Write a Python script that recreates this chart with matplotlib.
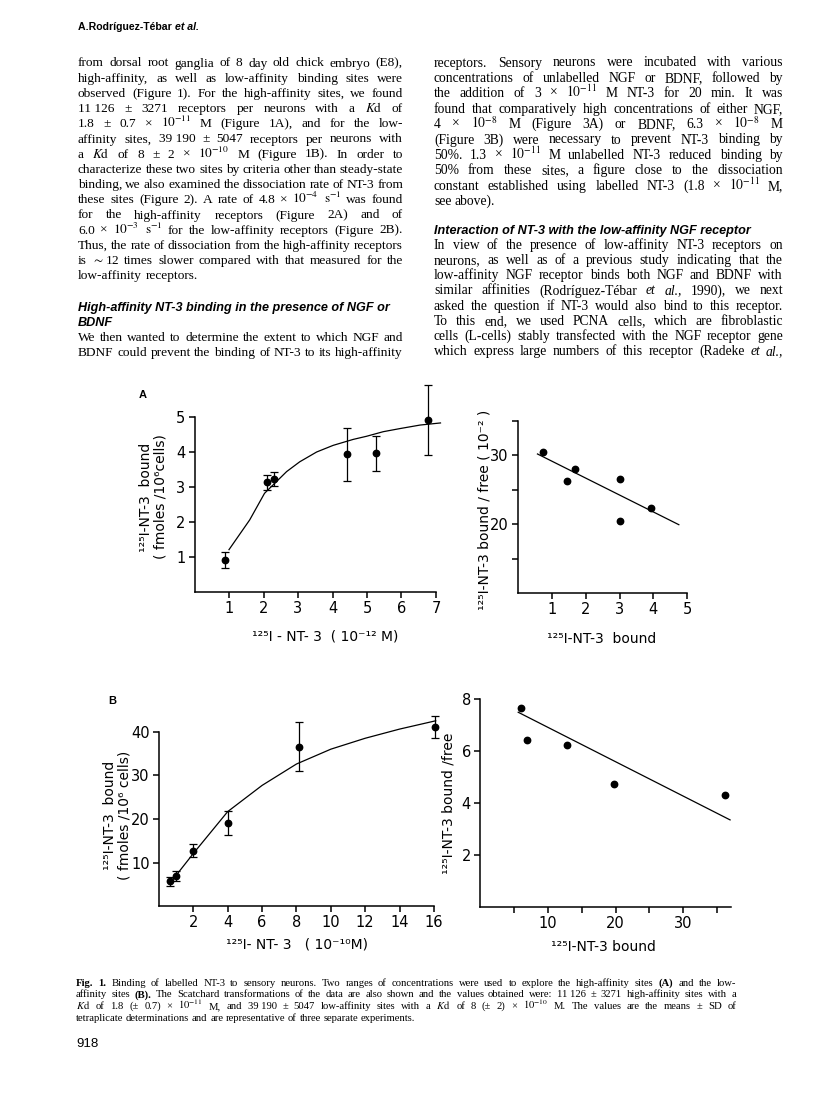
import matplotlib
matplotlib.use('Agg')
import matplotlib.pyplot as plt

plt.rcParams['mathtext.fontset'] = 'stix'
plt.rcParams['font.family'] = 'DejaVu Sans'

W, H = 816, 1093

# ---- panel A: saturation (high-affinity sites) ----
a_conc = [0.87, 2.11, 2.31, 4.42, 5.25, 6.76]
a_bound = [0.91, 3.13, 3.23, 3.93, 3.96, 4.91]
a_err = [0.23, 0.21, 0.21, 0.75, 0.50, 1.01]
a_fit_x = [1.0, 1.6, 2.03, 2.67, 3.05, 3.54, 4.02, 4.6, 4.99, 5.47, 5.96, 6.54, 7.13]
a_fit_y = [1.21, 2.06, 2.82, 3.44, 3.72, 4.0, 4.19, 4.36, 4.45, 4.58, 4.67, 4.77, 4.83]

# ---- panel A: Scatchard ----
as_bound = [0.73, 1.45, 1.68, 3.0, 3.02, 3.92]
as_ratio = [30.48, 26.28, 27.92, 26.57, 20.43, 22.37]
as_line_x = [0.58, 4.75]
as_line_y = [30.15, 19.9]

# ---- panel B: saturation (low-affinity sites) ----
b_conc = [0.64, 0.99, 2.0, 4.0, 8.13, 16.08]
b_bound = [5.7, 6.95, 12.7, 19.0, 36.6, 41.1]
b_err = [0.95, 1.05, 1.5, 2.75, 5.65, 2.45]
b_fit_x = [0.7, 2.0, 4.0, 6.0, 8.0, 10.0, 12.0, 14.0, 16.1]
b_fit_y = [5.6, 12.1, 21.7, 27.7, 32.6, 36.0, 38.5, 40.6, 42.5]

# ---- panel B: Scatchard ----
bs_bound = [6.0, 6.98, 12.87, 19.8, 36.2]
bs_ratio = [7.67, 6.42, 6.23, 4.74, 4.29]
bs_line_x = [5.65, 36.9]
bs_line_y = [7.49, 3.35]

# ---- page text ("_" keeps two parts together, {i} italic, {b} bold) ----
KD = "$K_\\mathrm{d}$"
left_lines = [
    "from dorsal root ganglia of 8 day old chick embryo (E8),",
    "high-affinity, as well as low-affinity binding sites were",
    "observed (Figure 1). For the high-affinity sites, we found",
    "11_126 ± 3271 receptors per neurons with a " + KD + " of",
    "1.8 ± 0.7 × $10^{-11}$ M (Figure 1A), and for the low-",
    "affinity sites, 39_190 ± 5047 receptors per neurons with",
    "a " + KD + " of 8 ± 2 × $10^{-10}$ M (Figure 1B). In order to",
    "characterize these two sites by criteria other than steady-state",
    "binding, we also examined the dissociation rate of NT-3 from",
    "these sites (Figure 2). A rate of 4.8 × $10^{-4}$ $\\mathrm{s}^{-1}$ was found",
    "for the high-affinity receptors (Figure 2A) and of",
    "6.0 × $10^{-3}$ $\\mathrm{s}^{-1}$ for the low-affinity receptors (Figure 2B).",
    "Thus, the rate of dissociation from the high-affinity receptors",
    "is $\\sim$12 times slower compared with that measured for the",
    "low-affinity receptors.",
]
left_heading = ["High-affinity NT-3 binding in the presence of NGF or", "BDNF"]
left_lines2 = [
    "We then wanted to determine the extent to which NGF and",
    "BDNF could prevent the binding of NT-3 to its high-affinity",
]
right_lines = [
    "receptors. Sensory neurons were incubated with various",
    "concentrations of unlabelled NGF or BDNF, followed by",
    "the addition of 3 × $10^{-11}$ M NT-3 for 20 min. It was",
    "found that comparatively high concentrations of either NGF,",
    "4 × $10^{-8}$ M (Figure 3A) or BDNF, 6.3 × $10^{-8}$ M",
    "(Figure 3B) were necessary to prevent NT-3 binding by",
    "50%. 1.3 × $10^{-11}$ M unlabelled NT-3 reduced binding by",
    "50% from these sites, a figure close to the dissociation",
    "constant established using labelled NT-3 (1.8 × $10^{-11}$ M,",
    "see above).",
]
right_heading = "Interaction of NT-3 with the low-affinity NGF receptor"
right_lines2 = [
    "In view of the presence of low-affinity NT-3 receptors on",
    "neurons, as well as of a previous study indicating that the",
    "low-affinity NGF receptor binds both NGF and BDNF with",
    "similar affinities (Rodríguez-Tébar {i}et {i}al., 1990), we next",
    "asked the question if NT-3 would also bind to this receptor.",
    "To this end, we used PCNA cells, which are fibroblastic",
    "cells (L-cells) stably transfected with the NGF receptor gene",
    "which express large numbers of this receptor (Radeke {i}et {i}al.,",
]
caption_lines = [
    "{b}Fig. {b}1. Binding of labelled NT-3 to sensory neurons. Two ranges of concentrations were used to explore the high-affinity sites {b}(A) and the low-",
    "affinity sites {b}(B). The Scatchard transformations of the data are also shown and the values obtained were: 11_126 ± 3271 high-affinity sites with a",
    KD + " of 1.8 (± 0.7) × $10^{-11}$ M, and 39_190 ± 5047 low-affinity sites with a " + KD + " of 8 (± 2) × $10^{-10}$ M. The values are the means ± SD of",
    "tetraplicate determinations and are representative of three separate experiments.",
]

fig = plt.figure(figsize=(W / 100, H / 100), dpi=100)
renderer = fig.canvas.get_renderer()
SERIF = 'Liberation Serif'
SANS = 'Liberation Sans'


def parse(word):
    style, weight = 'normal', 'normal'
    if word.startswith('{i}'):
        word, style = word[3:], 'italic'
    if word.startswith('{b}'):
        word, weight = word[3:], 'bold'
    return word.replace('_', ' '), style, weight


def width_of(word, size, family=SERIF):
    w, st, wt = parse(word)
    t = fig.text(0, 0, w, fontsize=size, family=family, style=st, weight=wt)
    wd = t.get_window_extent(renderer).width
    t.remove()
    return wd


def fit_size(lines, width, maxsize, min_gap=0.2):
    # largest size at which every line still fits with a small word gap
    worst = 0
    for ln in lines:
        words = ln.split()
        nat = sum(width_of(w, 10) for w in words) + (len(words) - 1) * min_gap * 10 * 100 / 72
        worst = max(worst, nat)
    return min(maxsize, 10 * width / worst * 0.99)


def place_line(line, x0, x1, y, size, justify=True, family=SERIF):
    words = line.split()
    objs, widths = [], []
    for w in words:
        s, st, wt = parse(w)
        t = fig.text(0, 0, s, fontsize=size, family=family, style=st, weight=wt,
                     va='baseline', ha='left', color='black')
        objs.append(t)
        widths.append(t.get_window_extent(renderer).width)
    gap = 0.25 * size * 100 / 72
    if justify and len(objs) > 1:
        gap = (x1 - x0 - sum(widths)) / (len(objs) - 1)
    x = x0
    for t, wd in zip(objs, widths):
        t.set_position((x / W, 1 - (y + 3.5) / H))
        x += wd + gap


def ptext(x, y, s, **kw):
    return fig.text(x / W, 1 - y / H, s, **kw)


# running head
head = ptext(78, 30, "A.Rodríguez-Tébar ", fontsize=7.6, family=SANS, weight='bold', va='baseline')
hw = head.get_window_extent(renderer).width
ptext(78 + hw, 30, "et al.", fontsize=7.6, family=SANS, weight='bold', style='italic', va='baseline')

# left column
LX0, LX1 = 78, 403
lsize = fit_size(left_lines + left_lines2, LX1 - LX0, 9.8)
for i, ln in enumerate(left_lines):
    place_line(ln, LX0, LX1, 63 + 15.2 * i, lsize, justify=(i < len(left_lines) - 1))
for i, ln in enumerate(left_heading):
    ptext(LX0, 307 + 3.5 + 15.2 * i, ln, fontsize=9.1, family=SANS,
          weight='bold', style='italic', va='baseline')
for i, ln in enumerate(left_lines2):
    place_line(ln, LX0, LX1, 337.5 + 15.2 * i, lsize)

# right column
RX0, RX1 = 434, 783
rsize = fit_size(right_lines + right_lines2, RX1 - RX0, 9.8)
for i, ln in enumerate(right_lines):
    place_line(ln, RX0, RX1, 63 + 15.4 * i, rsize, justify=(i < len(right_lines) - 1))
ptext(RX0, 231 + 3.5, right_heading, fontsize=9.1, family=SANS,
      weight='bold', style='italic', va='baseline')
for i, ln in enumerate(right_lines2):
    place_line(ln, RX0, RX1, 245.7 + 15.1 * i, rsize)

# caption
CX0, CX1 = 76, 736
csize = fit_size(caption_lines[:3], CX1 - CX0, 7.7, min_gap=0.3)
for i, ln in enumerate(caption_lines):
    place_line(ln, CX0, CX1, 982 + 11.8 * i, csize, justify=(i < len(caption_lines) - 1))

ptext(76, 1047, "918", fontsize=9.5, family=SANS, va='baseline')


# ---- axes helper: place axes so data values land on measured pixels ----
def add_axes_px(xp0, xv0, xp1, xv1, yp0, yv0, yp1, yv1, xlim, ylim):
    sx = (xp1 - xp0) / (xv1 - xv0)
    sy = (yp0 - yp1) / (yv1 - yv0)
    left = xp0 + (xlim[0] - xv0) * sx
    right = xp0 + (xlim[1] - xv0) * sx
    bottom = yp0 - (ylim[0] - yv0) * sy
    top = yp0 - (ylim[1] - yv0) * sy
    ax = fig.add_axes([left / W, 1 - bottom / H, (right - left) / W, (bottom - top) / H])
    ax.set_xlim(xlim)
    ax.set_ylim(ylim)
    ax.patch.set_alpha(0)
    return ax


def style_ax(ax, xb, yb, size=10.5):
    ax.spines['top'].set_visible(False)
    ax.spines['right'].set_visible(False)
    ax.spines['left'].set_bounds(*yb)
    ax.spines['bottom'].set_bounds(*xb)
    for s in ['left', 'bottom']:
        ax.spines[s].set_linewidth(1.1)
    ax.tick_params(which='both', direction='out', length=4.5, width=1.1,
                   labelsize=size, pad=2)


def errbars(ax, x, y, e):
    c = ax.errorbar(x, y, yerr=e, fmt='o', color='black', ms=4.6, capsize=3,
                    elinewidth=0.9, capthick=0.9)
    c.lines[0].set_clip_on(False)
    for a in c.lines[1]:
        a.set_clip_on(False)
    for a in c.lines[2]:
        a.set_clip_on(False)


# Panel A saturation
axA = add_axes_px(229, 1, 436, 7, 557, 1, 417, 5, (0, 7.4), (0, 5.0))
style_ax(axA, (0, 7), (0, 5))
errbars(axA, a_conc, a_bound, a_err)
axA.plot(a_fit_x, a_fit_y, color='black', lw=0.9, clip_on=False)
axA.set_xticks([1, 2, 3, 4, 5, 6, 7])
axA.set_yticks([1, 2, 3, 4, 5])
ptext(143, 395, "A", fontsize=8, family=SANS, weight='bold', ha='center', va='center')
ptext(153, 497, "¹²⁵I-NT-3  bound\n( fmoles /10⁶cells)", fontsize=10, rotation=90,
      ha='center', va='center', linespacing=1.0)
ptext(325, 636, "¹²⁵I - NT- 3  ( 10⁻¹² M)", fontsize=10, ha='center', va='center')

# Panel A Scatchard
axAs = add_axes_px(551.7, 1, 687.3, 5, 524, 20, 455, 30, (0, 5), (10, 35))
style_ax(axAs, (0, 5), (10, 35))
axAs.plot(as_bound, as_ratio, 'o', color='black', ms=4.6)
axAs.plot(as_line_x, as_line_y, color='black', lw=0.9)
axAs.set_xticks([1, 2, 3, 4, 5])
axAs.set_yticks([20, 30])
axAs.set_yticks([15, 25, 35], minor=True)
ptext(484, 510, "¹²⁵I-NT-3 bound / free ( 10⁻² )", fontsize=10, rotation=90,
      ha='center', va='center')
ptext(602, 639, "¹²⁵I-NT-3  bound", fontsize=10, ha='center', va='center')

# Panel B saturation
axB = add_axes_px(193.3, 2, 434, 16, 862.7, 10, 731.7, 40, (0, 16.6), (0, 40))
style_ax(axB, (0, 16), (0, 40))
errbars(axB, b_conc, b_bound, b_err)
axB.plot(b_fit_x, b_fit_y, color='black', lw=0.9, clip_on=False)
axB.set_xticks([2, 4, 6, 8, 10, 12, 14, 16])
axB.set_yticks([10, 20, 30, 40])
ptext(112, 701, "B", fontsize=8, family=SANS, weight='bold', ha='center', va='center')
ptext(117, 815, "¹²⁵I-NT-3  bound\n( fmoles /10⁶ cells)", fontsize=10, rotation=90,
      ha='center', va='center', linespacing=1.0)
ptext(297, 945, "¹²⁵I- NT- 3   ( 10⁻¹⁰M)", fontsize=10, ha='center', va='center')

# Panel B Scatchard
axBs = add_axes_px(547.7, 10, 683.3, 30, 855, 2, 699, 8, (0, 37), (0, 8))
style_ax(axBs, (0, 37), (0, 8))
axBs.plot(bs_bound, bs_ratio, 'o', color='black', ms=4.6)
axBs.plot(bs_line_x, bs_line_y, color='black', lw=0.9)
axBs.set_xticks([10, 20, 30])
axBs.set_xticks([5, 15, 25, 35], minor=True)
axBs.set_yticks([2, 4, 6, 8])
ptext(448, 803, "¹²⁵I-NT-3 bound /free", fontsize=10, rotation=90,
      ha='center', va='center')
ptext(603, 947, "¹²⁵I-NT-3 bound", fontsize=10, ha='center', va='center')

fig.savefig('out.png', dpi=100, facecolor='white')
